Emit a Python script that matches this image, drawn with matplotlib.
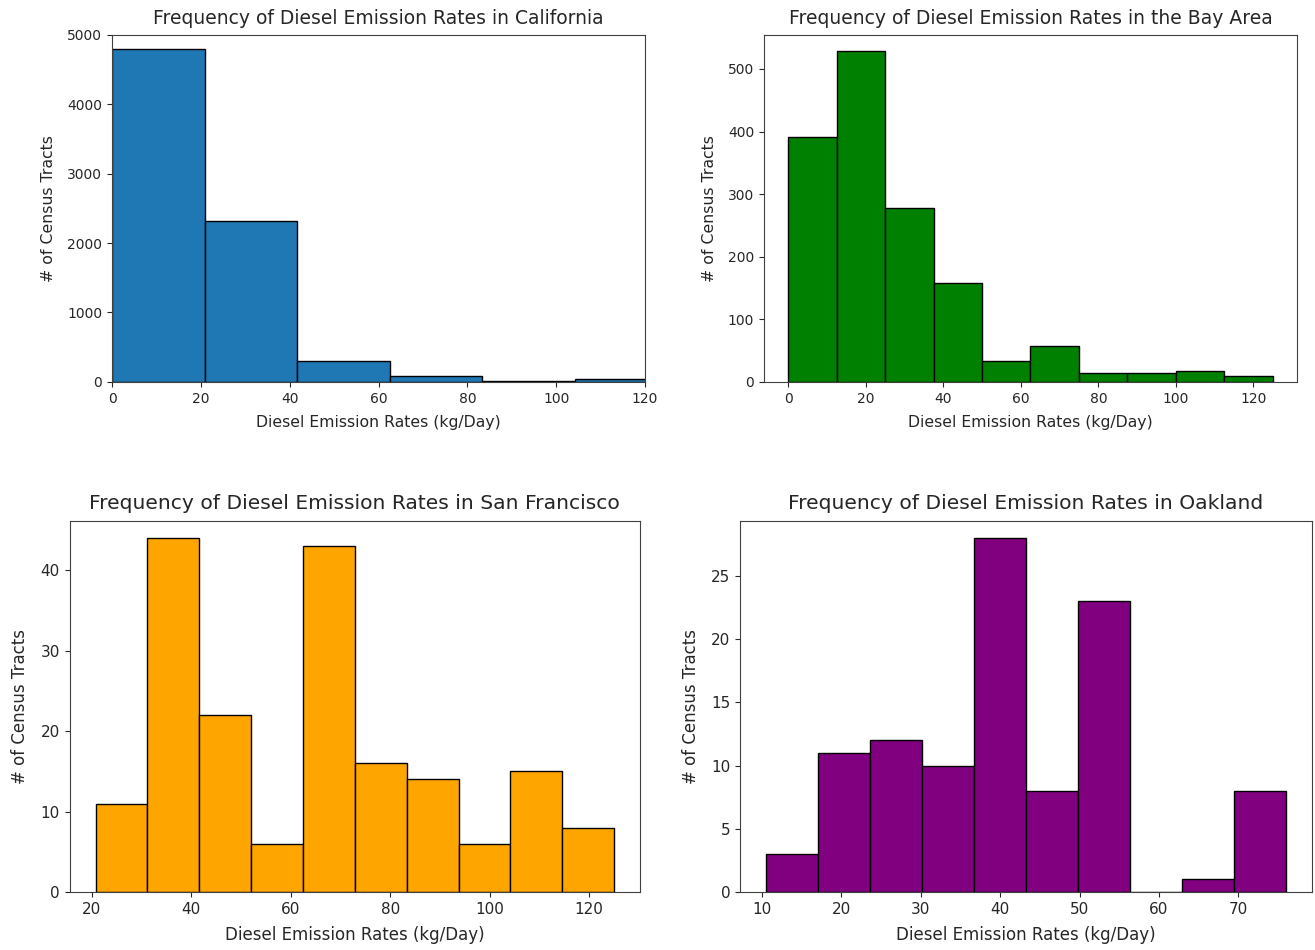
import numpy as np
import matplotlib
matplotlib.use("Agg")
import matplotlib.pyplot as plt


XLABEL = "Diesel Emission Rates (kg/Day)"
YLABEL = "# of Census Tracts"

# California: 6 bins over 0-125, x axis clipped to 0-120
ca_range = (0, 125)
ca_counts = [4790, 2313, 297, 86, 19, 38]

# Bay Area: 10 bins over 0-125
bay_range = (0, 125)
bay_counts = [391, 528, 278, 158, 33, 58, 15, 15, 18, 10]

# San Francisco: 10 bins over ~20.8-125
sf_range = (20.8, 125)
sf_counts = [11, 44, 22, 6, 43, 16, 14, 6, 15, 8]

# Oakland: 10 bins over ~10.5-76
oak_range = (10.5, 76.0)
oak_counts = [3, 11, 12, 10, 28, 8, 23, 0, 1, 8]


def draw_hist(ax, rng, counts, color, title, fs_title, fs_label, fs_tick):
    edges = np.linspace(rng[0], rng[1], len(counts) + 1)
    ax.hist(edges[:-1], bins=edges, weights=counts, color=color,
            edgecolor="black", linewidth=1)
    ax.set_title(title, fontsize=fs_title, color="#262626", pad=8)
    ax.set_xlabel(XLABEL, fontsize=fs_label, color="#262626", labelpad=7)
    ax.set_ylabel(YLABEL, fontsize=fs_label, color="#262626", labelpad=8)
    ax.tick_params(labelsize=fs_tick, colors="#262626")
    for spine in ax.spines.values():
        spine.set_color("#404040")


fig = plt.figure(figsize=(13.15, 9.5), dpi=100)

ax1 = fig.add_axes([0.0852, 0.598, 0.4053, 0.3653])
draw_hist(ax1, ca_range, ca_counts, "#1f77b4",
          "Frequency of Diesel Emission Rates in California", 13.5, 11.3, 10)
ax1.set_xlim(0, 120)
ax1.set_ylim(0, 5000)

ax2 = fig.add_axes([0.581, 0.598, 0.4053, 0.3653])
draw_hist(ax2, bay_range, bay_counts, "green",
          "Frequency of Diesel Emission Rates in the Bay Area", 13.5, 11.3, 10)

ax3 = fig.add_axes([0.053, 0.0611, 0.4337, 0.391])
draw_hist(ax3, sf_range, sf_counts, "orange",
          "Frequency of Diesel Emission Rates in San Francisco", 14.6, 12, 11)

ax4 = fig.add_axes([0.5627, 0.0611, 0.435, 0.391])
draw_hist(ax4, oak_range, oak_counts, "purple",
          "Frequency of Diesel Emission Rates in Oakland", 14.6, 12, 11)

fig.savefig("out.png", dpi=100)
